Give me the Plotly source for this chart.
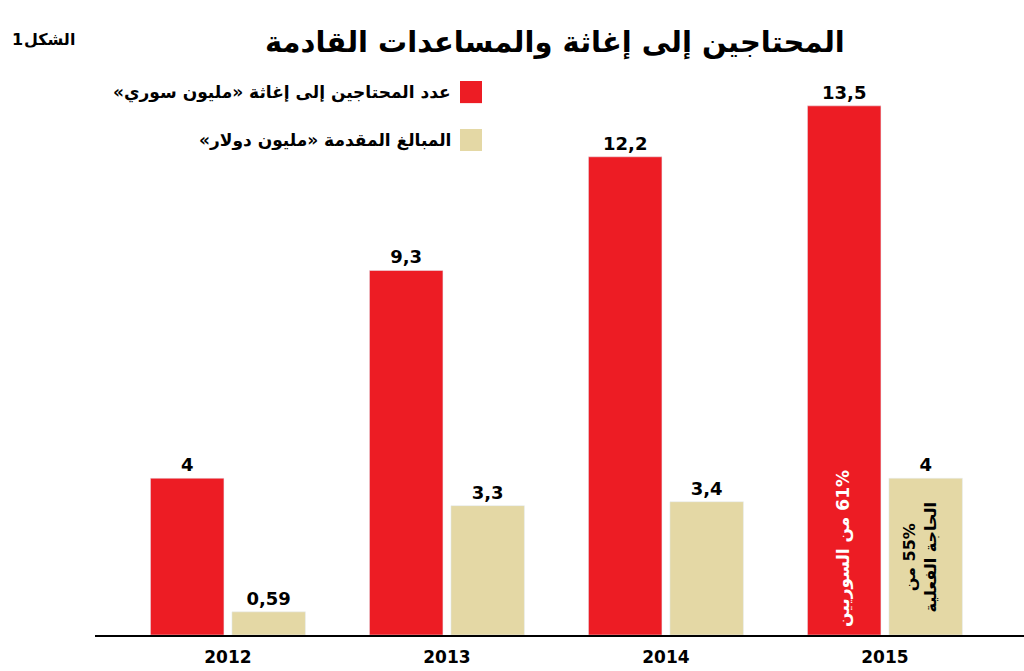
import plotly.graph_objects as go

# data
years = ["2012", "2013", "2014", "2015"]
needy = [4, 9.3, 12.2, 13.5]          # مليون سوري
funds = [0.59, 3.3, 3.4, 4]           # مليون دولار
needy_labels = ["4", "9,3", "12,2", "13,5"]
funds_labels = ["0,59", "3,3", "3,4", "4"]

RED = "#ED1C24"
BEIGE = "#E4D8A5"
FONT = "DejaVu Sans"


def rtl(s):
    # force right-to-left embedding so punctuation and numbers sit right
    return "\u202b" + s + "\u202c"


fig = go.Figure()
fig.add_trace(go.Bar(x=years, y=needy, marker_color=RED, text=needy_labels,
                     textposition="outside", cliponaxis=False,
                     textfont=dict(family=FONT, size=18, color="black", weight="bold")))
fig.add_trace(go.Bar(x=years, y=funds, marker_color=BEIGE, text=funds_labels,
                     textposition="outside", cliponaxis=False,
                     textfont=dict(family=FONT, size=18, color="black", weight="bold")))

fig.update_layout(
    width=1024, height=671,
    margin=dict(l=95, r=0, t=60, b=36),
    paper_bgcolor="white", plot_bgcolor="white",
    barmode="group", bargap=0.256, bargroupgap=0.098,
    showlegend=False,
    font=dict(family=FONT, color="black"),
)
fig.update_xaxes(type="category", range=[-0.607, 3.635], showline=True,
                 linecolor="black", linewidth=1.5, ticks="", showgrid=False,
                 tickfont=dict(family=FONT, size=17, color="black", weight="bold"),
                 ticklabelstandoff=6)
fig.update_yaxes(visible=False, range=[0, 14.67])

# title
fig.add_annotation(text=rtl("المحتاجين إلى إغاثة والمساعدات القادمة"), xref="paper", yref="paper",
                   x=0.495, y=1.031, yanchor="middle", showarrow=False,
                   font=dict(family=FONT, size=29, weight="bold"))
# figure number: word and digit placed separately so the digit sits on the left
fig.add_annotation(text="الشكل", xref="paper", yref="paper", x=-0.0194, y=1.035,
                   xanchor="right", yanchor="middle", showarrow=False,
                   font=dict(family=FONT, size=16, weight="bold"))
fig.add_annotation(text="1", xref="paper", yref="paper", x=-0.0753, y=1.035,
                   xanchor="right", yanchor="middle", showarrow=False,
                   font=dict(family=FONT, size=16, weight="bold"))

# legend drawn right-to-left: text then square
legend = [("عدد المحتاجين إلى إغاثة «مليون سوري»", RED, 0.925, 0.9635),
          ("المبالغ المقدمة «مليون دولار»", BEIGE, 0.8417, 0.88)]
for label, col, y0, y1 in legend:
    fig.add_shape(type="rect", xref="paper", yref="paper", x0=0.3929, x1=0.4166,
                  y0=y0, y1=y1, fillcolor=col, line_width=0)
    fig.add_annotation(text=rtl(label), xref="paper", yref="paper", x=0.385, y=(y0 + y1) / 2,
                       xanchor="right", yanchor="middle", showarrow=False,
                       font=dict(family=FONT, size=17, weight="bold"))

# notes written inside the 2015 bars
i2015 = years.index("2015")
fig.add_annotation(text=rtl("61% من السوريين"), xref="x", yref="y", x=i2015, y=2.22,
                   xshift=-41, showarrow=False, textangle=-90,
                   font=dict(family=FONT, size=17, color="white", weight="bold"))
fig.add_annotation(text=rtl("55% من") + "<br>" + rtl("الحاجة الفعلية"), xref="x", yref="y",
                   x=i2015, y=2.0, xshift=35, showarrow=False, textangle=-90,
                   font=dict(family=FONT, size=16, color="black", weight="bold"))

fig.write_html("out.html", config={"displayModeBar": False},
               post_script="document.body.style.margin='0px';")
